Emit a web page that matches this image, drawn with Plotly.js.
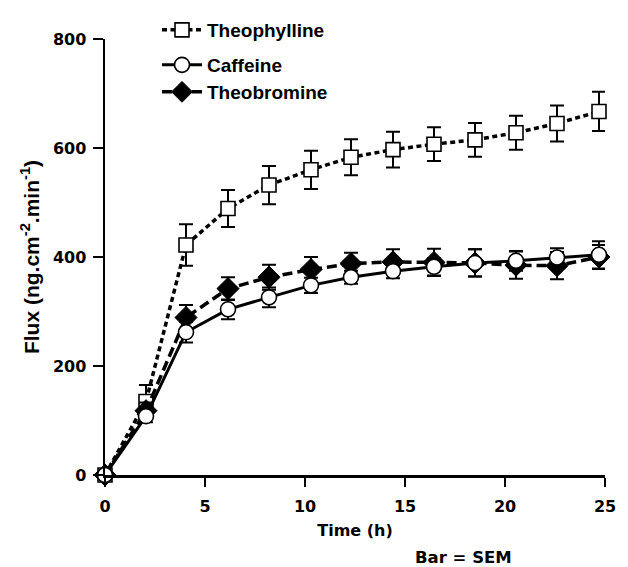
<!DOCTYPE html>
<html>
<head>
<meta charset="utf-8">
<script src="https://cdn.plot.ly/plotly-3.0.1.min.js"></script>
<style>html,body{margin:0;padding:0;background:#fff;}#chart{width:628px;height:567px;}</style>
</head>
<body>
<div id="chart"></div>
<script>
// Time points (h)
const time = [0, 2.05, 4.05, 6.15, 8.2, 10.3, 12.3, 14.4, 16.45, 18.5, 20.55, 22.6, 24.7];
// Flux values (ng.cm-2.min-1) and SEM
const theophylline = [0, 135, 422, 489, 532, 560, 583, 597, 607, 615, 628, 645, 667];
const theophyllineSem = [0, 30, 38, 34, 35, 35, 33, 33, 31, 31, 31, 33, 36];
const caffeine = [0, 108, 262, 304, 326, 348, 363, 374, 382, 389, 393, 399, 404];
const caffeineSem = [0, 11, 19, 18, 18, 14, 12, 13, 16, 25, 18, 17, 25];
const theobromine = [0, 118, 289, 342, 363, 377, 388, 391, 390, 389, 385, 384, 400];
const theobromineSem = [0, 15, 23, 21, 23, 23, 20, 23, 25, 25, 25, 25, 22];

const xTicks = [0, 5, 10, 15, 20, 25];
const yTicks = [0, 200, 400, 600, 800];

const AX = 'DejaVu Sans, sans-serif';
const LS = 'Liberation Sans, Arial, sans-serif';

function errBar(arr) {
  return {type: 'data', array: arr, visible: true, color: '#000', thickness: 2, width: 7};
}

const traces = [
  {
    x: time, y: theophylline, name: 'Theophylline', type: 'scatter', mode: 'lines+markers',
    line: {color: '#000', width: 3.5, dash: '5px,3.5px'},
    marker: {symbol: 'square', size: 14, color: '#fff', line: {color: '#000', width: 1.6}},
    error_y: errBar(theophyllineSem), cliponaxis: false, legend: 'legend'
  },
  {
    x: time, y: theobromine, name: 'Theobromine', type: 'scatter', mode: 'lines+markers',
    line: {color: '#000', width: 3.5, dash: '10px,5px'},
    marker: {symbol: 'diamond', size: 17, color: '#000', line: {color: '#000', width: 1}},
    error_y: errBar(theobromineSem), cliponaxis: false, legend: 'legend3'
  },
  {
    x: time, y: caffeine, name: 'Caffeine', type: 'scatter', mode: 'lines+markers',
    line: {color: '#000', width: 3, dash: 'solid'},
    marker: {symbol: 'circle', size: 15, color: '#fff', line: {color: '#000', width: 1.6}},
    error_y: errBar(caffeineSem), cliponaxis: false, legend: 'legend2'
  }
];

function py(p) { return (475 - p) / 437; }
function leg(yPix) {
  return {
    x: (157 - 105) / 500, y: py(yPix), xanchor: 'left', yanchor: 'middle',
    font: {family: LS, size: 19, color: '#000', weight: 'bold'},
    bgcolor: 'rgba(0,0,0,0)', itemwidth: 40
  };
}

const layout = {
  width: 628, height: 567,
  margin: {l: 105, r: 23, t: 38, b: 92, pad: 0},
  paper_bgcolor: '#fff', plot_bgcolor: '#fff',
  font: {family: AX, color: '#000', size: 16, weight: 'bold'},
  showlegend: true,
  legend: leg(30),
  legend2: leg(65),
  legend3: leg(92),
  xaxis: {
    range: [0, 25], tickvals: xTicks, ticktext: xTicks.map(String),
    showline: true, linecolor: '#000', linewidth: 2.5,
    ticks: 'outside', ticklen: 9, tickwidth: 2.5, tickcolor: '#000',
    showgrid: false, zeroline: false, ticklabelstandoff: 6,
    tickfont: {family: AX, size: 16, weight: 'bold'},
    title: {text: 'Time (h)', font: {family: AX, size: 16, weight: 'bold'}, standoff: 10},
    automargin: false
  },
  yaxis: {
    range: [0, 800], tickvals: yTicks, ticktext: yTicks.map(String),
    showline: true, linecolor: '#000', linewidth: 2.5,
    ticks: 'outside', ticklen: 10, tickwidth: 2.5, tickcolor: '#000',
    showgrid: false, zeroline: false, ticklabelstandoff: 3,
    tickfont: {family: AX, size: 16, weight: 'bold'},
    title: {text: 'Flux (ng.cm<sup>-2</sup>.min<sup>-1</sup>)', font: {family: LS, size: 21, weight: 'bold'}, standoff: 8},
    automargin: false
  },
  annotations: [
    {text: 'Bar = SEM', xref: 'paper', yref: 'paper', x: (463 - 105) / 500, y: py(558),
     xanchor: 'center', yanchor: 'middle', showarrow: false,
     font: {family: AX, size: 16.5, color: '#000', weight: 'bold'}}
  ]
};

Plotly.newPlot('chart', traces, layout, {staticPlot: true, displayModeBar: false});
</script>
</body>
</html>
